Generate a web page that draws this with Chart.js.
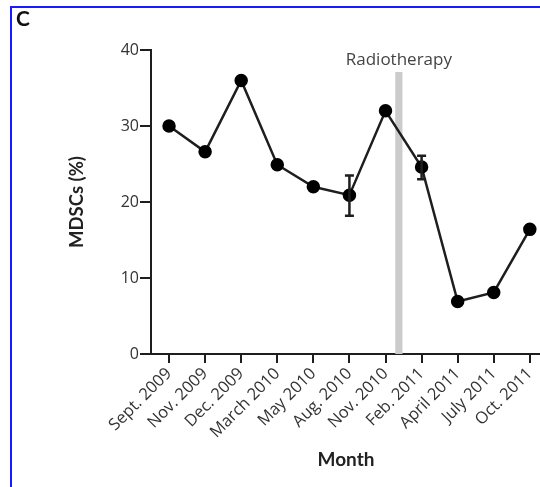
<!DOCTYPE html>
<html>
<head>
<meta charset="utf-8">
<script src="https://cdn.jsdelivr.net/npm/chart.js@4/dist/chart.umd.min.js"></script>
<style>
  html, body { margin: 0; padding: 0; background: #fff; overflow: hidden; }
  #wrap { position: relative; width: 540px; height: 487px; overflow: hidden; }
  #mdsc { position: absolute; left: 0; top: 0; }
  #frame {
    position: absolute; left: 10px; top: 6px; right: 0; bottom: 0;
    border-left: 2px solid #1a1aff; border-top: 2px solid #1a1aff;
    pointer-events: none;
  }
</style>
</head>
<body>
<div id="wrap">
  <!-- canvas is a little wider than the frame so the x axis runs to the right edge -->
  <canvas id="mdsc" width="549" height="487"></canvas>
  <div id="frame"></div>
</div>
<script>
// Sampling months
const months = ['Sept. 2009', 'Nov. 2009', 'Dec. 2009', 'March 2010', 'May 2010', 'Aug. 2010',
                'Nov. 2010', 'Feb. 2011', 'April 2011', 'July 2011', 'Oct. 2011'];

// MDSC percentage per sample
const mdscValues = [30, 26.6, 36, 24.9, 22, 20.9, 32, 24.6, 6.9, 8.1, 16.4];

// Error bar range (only where replicate measurements exist)
const errLow  = [null, null, null, null, null, 18.2, null, 23.0, null, null, null];
const errHigh = [null, null, null, null, null, 23.5, null, 26.1, null, null, null];

// Radiotherapy window, in month-index units, and its height in %
const rtStart = 6.27;
const rtEnd = 6.47;
const rtTop = 37.1;
const rtLabel = 'Radiotherapy';

const FONT = '"Open Sans", Lato, sans-serif';
const BOLD = 'Lato, "Open Sans", sans-serif';
const INK = '#1e1e1e';

// grey band for the radiotherapy period + its label
const radiotherapyBand = {
    id: 'radiotherapyBand',
    beforeDatasetsDraw(chart) {
        const { ctx, scales: { x, y } } = chart;
        const x0 = x.getPixelForValue(rtStart);
        const x1 = x.getPixelForValue(rtEnd);
        const yTop = y.getPixelForValue(rtTop);
        const yBot = y.getPixelForValue(0);
        ctx.save();
        ctx.fillStyle = '#cbcbcb';
        ctx.fillRect(x0, yTop, x1 - x0, yBot - yTop);
        ctx.fillStyle = '#444';
        ctx.font = '17px ' + FONT;
        ctx.textAlign = 'center';
        ctx.textBaseline = 'alphabetic';
        ctx.fillText(rtLabel, (x0 + x1) / 2, yTop - 7);
        ctx.restore();
    }
};

// vertical error bars with caps
const errorBars = {
    id: 'errorBars',
    afterDatasetsDraw(chart) {
        const { ctx, scales: { x, y } } = chart;
        ctx.save();
        ctx.strokeStyle = INK;
        ctx.lineWidth = 2.5;
        errLow.forEach((lo, i) => {
            if (lo === null) return;
            const px = x.getPixelForValue(i);
            const yLo = y.getPixelForValue(lo);
            const yHi = y.getPixelForValue(errHigh[i]);
            ctx.beginPath();
            ctx.moveTo(px, yLo);
            ctx.lineTo(px, yHi);
            ctx.moveTo(px - 4.5, yLo);
            ctx.lineTo(px + 4.5, yLo);
            ctx.moveTo(px - 4.5, yHi);
            ctx.lineTo(px + 4.5, yHi);
            ctx.stroke();
        });
        ctx.restore();
    }
};

// panel letter
const panelLetter = {
    id: 'panelLetter',
    afterDraw(chart) {
        const ctx = chart.ctx;
        ctx.save();
        ctx.fillStyle = '#111';
        ctx.font = 'bold 21px ' + BOLD;
        ctx.textAlign = 'left';
        ctx.textBaseline = 'alphabetic';
        ctx.fillText('C', 16, 26);
        ctx.restore();
    }
};

const ctx = document.getElementById('mdsc').getContext('2d');
new Chart(ctx, {
    type: 'line',
    data: {
        datasets: [{
            data: mdscValues.map((v, i) => ({ x: i, y: v })),
            borderColor: INK,
            borderWidth: 2.5,
            backgroundColor: INK,
            pointBackgroundColor: '#000',
            pointBorderColor: '#000',
            pointRadius: 5.5,
            tension: 0
        }]
    },
    options: {
        responsive: false,
        animation: false,
        layout: { padding: { left: 66, top: 50, right: 0, bottom: 16 } },
        plugins: {
            legend: { display: false },
            tooltip: { enabled: false }
        },
        scales: {
            x: {
                type: 'linear',
                min: -0.5,
                max: 10.31,
                offset: false,
                afterBuildTicks: (scale) => {
                    scale.ticks = months.map((_, i) => ({ value: i }));
                },
                afterFit: (scale) => { scale.height = 487 - 354 - 16; },
                border: { color: INK, width: 2 },
                grid: { display: true, drawOnChartArea: false, drawTicks: true, tickLength: 9, color: INK, lineWidth: 2 },
                ticks: {
                    autoSkip: false,
                    minRotation: 45,
                    maxRotation: 45,
                    padding: 1,
                    color: '#333',
                    font: { family: FONT, size: 16.5 },
                    callback: (v) => months[v]
                },
                title: {
                    display: true,
                    text: 'Month',
                    color: '#222',
                    padding: { top: 0, bottom: 0 },
                    font: { family: BOLD, size: 19, weight: 'bold' }
                }
            },
            y: {
                min: 0,
                max: 40,
                afterFit: (scale) => { scale.width = 151 - 66; },
                border: { color: INK, width: 2 },
                grid: { display: true, drawOnChartArea: false, drawTicks: true, tickLength: 11, color: INK, lineWidth: 2 },
                ticks: {
                    stepSize: 10,
                    padding: 1,
                    color: '#333',
                    font: { family: FONT, size: 16 }
                },
                title: {
                    display: true,
                    text: 'MDSCs (%)',
                    color: '#222',
                    padding: { top: 0, bottom: 0 },
                    font: { family: BOLD, size: 18.5, weight: 'bold' }
                }
            }
        }
    },
    plugins: [radiotherapyBand, errorBars, panelLetter]
});
</script>
</body>
</html>
